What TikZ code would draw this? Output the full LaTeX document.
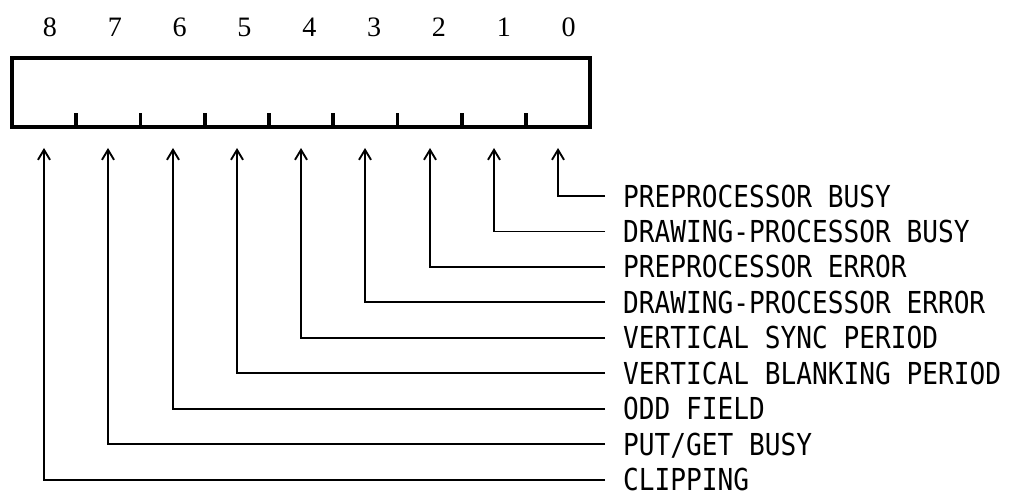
\documentclass[tikz,border=0pt]{standalone}
\usepackage{fontspec}
\usepackage{tikz}
\usetikzlibrary{arrows.meta,positioning}
\newfontfamily\flagfont[FakeStretch=0.865]{DejaVu Sans Mono}
\newfontfamily\bitfont{Liberation Serif}
\tikzset{
    regbox/.style={draw, line width=4pt, inner sep=0pt,
        minimum width=173.4mm, minimum height=20.7mm},
    regtick/.style={line width=3pt},
    bitnum/.style={inner sep=0pt, minimum width=19.31mm,
        font=\bitfont\fontsize{24}{28}\selectfont},
    flagtext/.style={anchor=west, inner xsep=5.4mm, inner ysep=0pt,
        minimum height=7mm, text height=18.8pt, text depth=0pt,
        font=\flagfont\fontsize{25.8}{30}\selectfont},
    flagarrow/.style={-{Straight Barb[length=3mm,width=3.6mm]}, line width=1.6pt}
}

\begin{document}
\begin{tikzpicture}[x=0.3mm, y=0.3mm, node distance=3.5mm]
        \useasboundingbox (0,0) rectangle (1011,491);

        % bit numbers
        \node[bitnum] (bit8) at (50,464) {8};
        \node[bitnum, right=0mm of bit8] (bit7) {7};
        \node[bitnum, right=0mm of bit7] (bit6) {6};
        \node[bitnum, right=0mm of bit6] (bit5) {5};
        \node[bitnum, right=0mm of bit5] (bit4) {4};
        \node[bitnum, right=0mm of bit4] (bit3) {3};
        \node[bitnum, right=0mm of bit3] (bit2) {2};
        \node[bitnum, right=0mm of bit2] (bit1) {1};
        \node[bitnum, right=0mm of bit1] (bit0) {0};

        % status register
        \node[regbox] (reg) at (301,398.5) {};
        \draw[regtick] (76.25,364) -- ++(0,14) (140.5,364) -- ++(0,14)
            (204.75,364) -- ++(0,14) (269,364) -- ++(0,14)
            (333.25,364) -- ++(0,14) (397.5,364) -- ++(0,14)
            (461.75,364) -- ++(0,14) (526,364) -- ++(0,14);

        \coordinate (tip8) at (44,343);
        \coordinate (tip7) at (108,343);
        \coordinate (tip6) at (173,343);
        \coordinate (tip5) at (237,343);
        \coordinate (tip4) at (301,343);
        \coordinate (tip3) at (365,343);
        \coordinate (tip2) at (430,343);
        \coordinate (tip1) at (494,343);
        \coordinate (tip0) at (558,343);

        % flag names
        \node[flagtext] (flag0) at (605,295) {PREPROCESSOR BUSY};
        \node[flagtext, below=of flag0.south west, anchor=north west] (flag1)
            {DRAWING-PROCESSOR BUSY};
        \node[flagtext, below=of flag1.south west, anchor=north west] (flag2)
            {PREPROCESSOR ERROR};
        \node[flagtext, below=of flag2.south west, anchor=north west] (flag3)
            {DRAWING-PROCESSOR ERROR};
        \node[flagtext, below=of flag3.south west, anchor=north west] (flag4)
            {VERTICAL SYNC PERIOD};
        \node[flagtext, below=of flag4.south west, anchor=north west] (flag5)
            {VERTICAL BLANKING PERIOD};
        \node[flagtext, below=of flag5.south west, anchor=north west] (flag6)
            {ODD FIELD};
        \node[flagtext, below=of flag6.south west, anchor=north west] (flag7)
            {PUT/GET BUSY};
        \node[flagtext, below=of flag7.south west, anchor=north west] (flag8)
            {CLIPPING};

        \draw[flagarrow] (flag0.west) -| (tip0);
        \draw[flagarrow] (flag1.west) -| (tip1);
        \draw[flagarrow] (flag2.west) -| (tip2);
        \draw[flagarrow] (flag3.west) -| (tip3);
        \draw[flagarrow] (flag4.west) -| (tip4);
        \draw[flagarrow] (flag5.west) -| (tip5);
        \draw[flagarrow] (flag6.west) -| (tip6);
        \draw[flagarrow] (flag7.west) -| (tip7);
        \draw[flagarrow] (flag8.west) -| (tip8);
    \end{tikzpicture}
\end{document}
